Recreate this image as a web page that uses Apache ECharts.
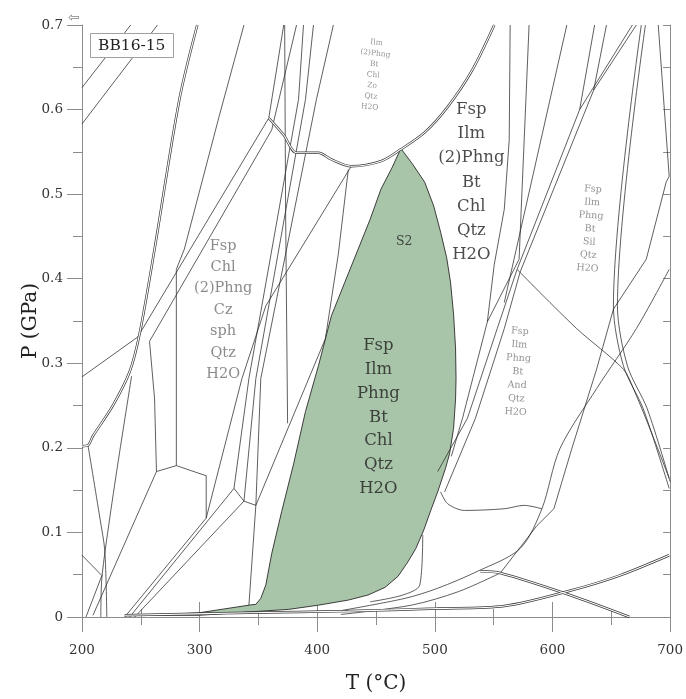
<!DOCTYPE html>
<html><head><meta charset="utf-8">
<script src="https://cdn.jsdelivr.net/npm/echarts@6.0.0/dist/echarts.min.js"></script>
<style>html,body{margin:0;padding:0;background:#fff}#c{width:686px;height:699px}</style>
</head><body><div id="c"></div>
<script>
// ---------- axis ticks ----------
const xTicks = [200, 300, 400, 500, 600, 700];
const yTicks = [0, 0.1, 0.2, 0.3, 0.4, 0.5, 0.6, 0.7];

// ---------- green field (S2) [T °C, P GPa] ----------
const greenField = [[257.4,0.002],[299.7,0.005],[341.9,0.014],[347.8,0.015],[352,0.022],[356.3,0.038],[361.3,0.075],[369.8,0.125],[379.9,0.181],[390,0.243],[401,0.297],[412,0.356],[423.5,0.396],[434.8,0.435],[444.9,0.470],[454.2,0.506],[463.5,0.531],[471.1,0.554],[481.3,0.535],[491.4,0.514],[499,0.486],[504.9,0.455],[510,0.425],[513.3,0.396],[515.9,0.358],[517.6,0.317],[518,0.282],[517.6,0.258],[515.9,0.223],[512.5,0.193],[509.1,0.176],[502.4,0.148],[496.5,0.126],[490.6,0.103],[483.8,0.081],[477,0.065],[468.6,0.048],[457.6,0.035],[443.2,0.026],[426.4,0.020],[401,0.014],[375.7,0.009],[341.9,0.006],[299.7,0.002]];

// ---------- reaction lines [T, P] ----------
const lineA1 = [[200,0.626],[241.4,0.700]];
const lineA2 = [[200,0.583],[264.2,0.700]];
const lineL3 = [[298,0.700],[282.8,0.612],[261.7,0.435],[249,0.335],[240.5,0.290],[226.2,0.250],[209.3,0.214],[205.1,0.203],[200,0.202]];
const lineL4 = [[337.7,0.700],[316.6,0.592],[287,0.435],[280.2,0.411],[280.2,0.179]];
const lineF = [[200,0.284],[247.3,0.331]];
const lineE1 = [[247.3,0.331],[358.8,0.590],[371.5,0.700]];
const lineE2 = [[257.4,0.326],[361.3,0.576],[382.4,0.700]];
const lineV1 = [[257.4,0.326],[261.7,0.258],[263.3,0.172]];
const lineP = [[263.3,0.172],[280.2,0.179],[305.6,0.167],[305.6,0.117]];
const lineG1 = [[263.3,0.172],[209.3,0.002]];
const lineH1 = [[205.1,0.203],[215.2,0.117],[219.4,0.078],[221.1,0.0]];
const lineH2 = [[242.2,0.285],[232.1,0.196],[223.6,0.117],[216.9,0.046],[216,0.0]];
const lineI = [[200,0.073],[216.9,0.049],[203.4,0.0]];
const lineD1 = [[428.9,0.533],[356.3,0.368],[336,0.282],[305.6,0.117],[236.3,0.0]];
const lineD2 = [[426.4,0.529],[417.9,0.429],[406.9,0.329],[347.8,0.132],[341.9,0.014]];
const lineB1 = [[388.3,0.700],[384.1,0.612],[341.9,0.282],[329.2,0.152],[240.5,0.0]];
const lineB2 = [[396.8,0.700],[390,0.612],[347.8,0.282],[337.7,0.137],[244.8,0.0]];
const lineB3 = [[413.7,0.700],[399.3,0.612],[352,0.282],[347.8,0.132]];
const lineJ = [[329.2,0.152],[337.7,0.137],[347.8,0.132]];
const lineV2 = [[372.3,0.700],[373.1,0.482],[374.8,0.229]];
const lineDome = [[358.8,0.590],[371.5,0.570],[382.4,0.549],[401,0.549],[412,0.541],[428.9,0.533],[454.2,0.539],[471.1,0.553],[491.4,0.573],[510.8,0.603],[531.9,0.647],[550.5,0.700]];
const lineRB = [[564,0.700],[563.2,0.564],[559,0.482],[550.5,0.417],[544.6,0.349],[523.5,0.235],[514,0.190]];
const lineRC = [[580.1,0.700],[571.6,0.423],[544.6,0.349]];
const lineRD = [[612.2,0.700],[559,0.372]];
const lineRE = [[635.8,0.700],[623.1,0.600]];
const lineRF = [[645.9,0.700],[635,0.623]];
const lineQ1 = [[502.4,0.172],[527.7,0.235],[553,0.341],[569.9,0.411],[623.1,0.600],[667.9,0.700]];
const lineQ2 = [[508.3,0.148],[534.5,0.235],[559,0.341],[572.5,0.408],[635,0.623],[671.3,0.700]];
const lineRK = [[569.9,0.411],[620.6,0.341],[660.3,0.293],[668.8,0.270],[685,0.215],[699.2,0.164]];
const lineR1 = [[417.9,0.007],[474.5,0.022],[502.4,0.034],[536.2,0.054],[572.5,0.081],[591,0.128],[606.3,0.199],[637.5,0.270],[671.3,0.341],[699.2,0.411]];
const lineR2 = [[555.6,0.052],[586.8,0.108],[601.2,0.128],[616.4,0.199],[637.5,0.293],[651.8,0.364]];
const lineRG = [[675.5,0.700],[651.8,0.368],[660.3,0.297],[677.2,0.246],[699.2,0.152]];
const lineRG2 = [[679,0.700],[655.2,0.368],[663.7,0.297],[680.6,0.246],[700,0.160]];
const lineRH = [[689.9,0.700],[699.2,0.521],[696.6,0.514],[679.7,0.423],[651.8,0.364]];
const lineRdown = [[538.7,0.054],[555.6,0.052],[614.7,0.026],[665.4,0.0]];
const lineBC1 = [[236.3,0.002],[341.9,0.005],[426.4,0.007],[502,0.010],[559,0.013],[614.7,0.031],[656.9,0.049],[699.2,0.073]];
const lineLB2 = [[420,0.003],[480,0.014],[520,0.030],[555.6,0.052]];
const lineK = [[504.9,0.148],[510.8,0.134],[525.2,0.126],[559,0.128],[575.8,0.132],[591,0.128]];
const lineM = [[489.7,0.097],[487.2,0.038],[472.8,0.026],[445,0.018]];

// ---------- field labels ----------
const fieldNames = [
  'Ilm\n(2)Phng\nBt\nChl\nZo\nQtz\nH2O',
  'Fsp\nIlm\n(2)Phng\nBt\nChl\nQtz\nH2O',
  'Fsp\nChl\n(2)Phng\nCz\nsph\nQtz\nH2O',
  'S2',
  'Fsp\nIlm\nPhng\nBt\nChl\nQtz\nH2O',
  'Fsp\nIlm\nPhng\nBt\nSil\nQtz\nH2O',
  'Fsp\nIlm\nPhng\nBt\nAnd\nQtz\nH2O'
];
const fieldAnchors = [[447.5,0.641],[531,0.514],[320,0.363],[474,0.444],[452,0.236],[632,0.459],[570.5,0.290]];
const sampleName = 'BB16-15';

// ---------- grouping / styles ----------
const straightLines = [lineA1, lineA2, lineF, lineE1, lineE2, lineV1, lineP, lineG1, lineI, lineD1, lineD2, lineB1, lineB2, lineB3, lineJ, lineV2, lineL4, lineRB, lineRC, lineRD, lineRE, lineRF, lineQ1, lineQ2, lineR2, lineRH];
const curvedLines = [lineH1, lineH2, lineRK, lineR1, lineRG, lineRG2, lineLB2, lineK, lineM];
const doubleLines = [lineL3, lineDome, lineRdown, lineBC1];

const FONT = 'DejaVu Serif';
const AX = '#8c8c8c';
const LC = '#2a2a2a';
const labelStyles = [
  {fontSize: 7.5, color: '#7a7a7a', lineHeight: 10.8, rotate: -6},
  {fontSize: 16.5, color: '#1e1e1e', lineHeight: 24.3, rotate: 0},
  {fontSize: 14.5, color: '#6e6e6e', lineHeight: 21.4, rotate: 0},
  {fontSize: 12.5, color: '#222', lineHeight: 15, rotate: 0},
  {fontSize: 16.5, color: '#1e1e1e', lineHeight: 23.8, rotate: 0},
  {fontSize: 9.5, color: '#777', lineHeight: 13.2, rotate: -4},
  {fontSize: 9.5, color: '#777', lineHeight: 13.5, rotate: -3}
];

const series = [];
series.push({
  type: 'custom', silent: true, z: 1, clip: true,
  data: [greenField[0]],
  renderItem: function (params, api) {
    return {
      type: 'polygon',
      shape: {points: greenField.map(function (p) { return api.coord(p); })},
      style: {fill: '#a9c5a9', stroke: '#2a2a2a', lineWidth: 0.9}
    };
  }
});
function addLine(d, width, color, smooth, z) {
  series.push({type: 'line', data: d, symbol: 'none', smooth: smooth, silent: true, z: z,
    lineStyle: {color: color, width: width}});
}
straightLines.forEach(function (d) { addLine(d, 0.75, LC, false, 3); });
curvedLines.forEach(function (d) { addLine(d, 0.75, LC, 0.3, 3); });
doubleLines.forEach(function (d) { addLine(d, 2.5, '#3a3a3a', 0.3, 4); addLine(d, 1.1, '#fff', 0.3, 5); });

fieldNames.forEach(function (n, i) {
  const s = labelStyles[i];
  series.push({
    type: 'scatter', symbolSize: 0, silent: true, z: 10,
    data: [{name: n, value: fieldAnchors[i]}],
    label: {show: true, position: 'inside', formatter: '{b}', fontFamily: FONT,
      fontSize: s.fontSize, color: s.color, lineHeight: s.lineHeight, rotate: s.rotate, align: 'center'}
  });
});

const axisCommon = {
  type: 'value', min: xTicks[0], max: xTicks[xTicks.length - 1], interval: 100,
  axisLine: {show: true, lineStyle: {color: AX, width: 1}},
  splitLine: {show: false}, minorSplitLine: {show: false}
};
const option = {
  animation: false,
  backgroundColor: '#fff',
  title: {text: sampleName, left: 90, top: 33, padding: [4, 8],
    borderColor: '#a0a0a0', borderWidth: 1, backgroundColor: '#fff',
    textStyle: {fontFamily: FONT, fontSize: 15.5, fontWeight: 'normal', color: '#222', lineHeight: 17}},
  grid: {left: 82, right: 12, top: 25, bottom: 81, containLabel: false},
  graphic: [{type: 'text', left: 68, top: 11, style: {text: '⇦', fontSize: 14, fill: '#888', fontFamily: 'DejaVu Sans'}}],
  xAxis: [
    Object.assign({}, axisCommon, {position: 'bottom',
      axisTick: {show: true, length: 15, lineStyle: {color: AX}},
      minorTick: {show: true, splitNumber: 2, length: 8, lineStyle: {color: AX}},
      axisLabel: {fontFamily: FONT, fontSize: 13.5, color: '#333', margin: 26,
        formatter: function (v) { return xTicks.indexOf(v) >= 0 ? String(v) : ''; }},
      name: 'T (°C)', nameLocation: 'middle', nameGap: 57, nameMoveOverlap: false,
      nameTextStyle: {fontFamily: FONT, fontSize: 20, color: '#222'}}),
    Object.assign({}, axisCommon, {position: 'top',
      axisTick: {show: true, length: 15, lineStyle: {color: AX}},
      minorTick: {show: true, splitNumber: 2, length: 8, lineStyle: {color: AX}},
      axisLabel: {show: false}})
  ],
  yAxis: [
    {type: 'value', min: yTicks[0], max: yTicks[yTicks.length - 1], interval: 0.1, position: 'left',
      axisLine: {show: true, lineStyle: {color: AX, width: 1}},
      axisTick: {show: true, length: 15, lineStyle: {color: AX}},
      minorTick: {show: true, splitNumber: 2, length: 9, lineStyle: {color: AX}},
      splitLine: {show: false},
      axisLabel: {fontFamily: FONT, fontSize: 13.5, color: '#333', margin: 19,
        formatter: function (v) { return v === 0 ? '0' : (Math.round(v * 10) / 10).toFixed(1); }},
      name: 'P (GPa)', nameLocation: 'middle', nameGap: 41, nameRotate: 90, nameMoveOverlap: false,
      nameTextStyle: {fontFamily: FONT, fontSize: 20, color: '#222'}},
    {type: 'value', min: yTicks[0], max: yTicks[yTicks.length - 1], interval: 0.1, position: 'right',
      axisLine: {show: true, lineStyle: {color: AX, width: 1}},
      axisTick: {show: true, inside: true, length: 7, lineStyle: {color: AX}},
      minorTick: {show: true, splitNumber: 2, length: 7, lineStyle: {color: AX}},
      splitLine: {show: false}, axisLabel: {show: false}}
  ],
  series: series
};
const chart = echarts.init(document.getElementById('c'), null, {renderer: 'canvas'});
chart.setOption(option);
</script></body></html>
